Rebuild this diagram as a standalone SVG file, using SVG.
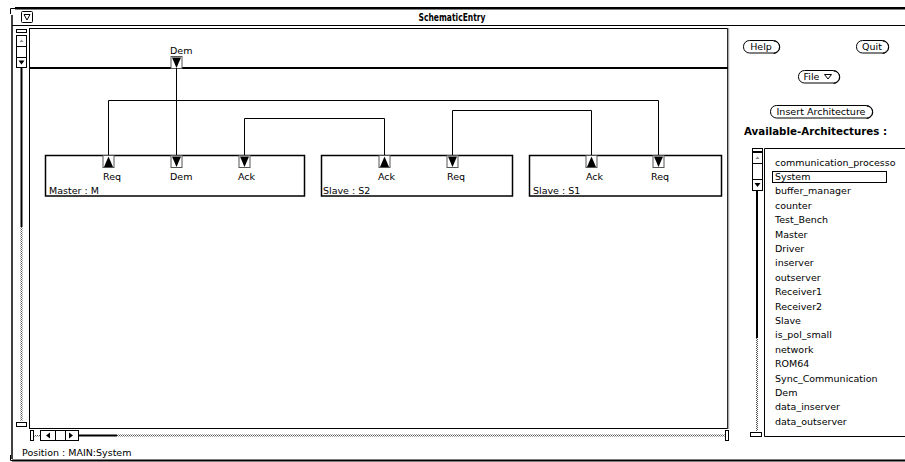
<svg xmlns="http://www.w3.org/2000/svg" xmlns:xlink="http://www.w3.org/1999/xlink" width="905" height="462" viewBox="0 0 905 462">
  <style>
    .t { font-family: "DejaVu Sans", "Liberation Sans", sans-serif; font-size: 9.5px; fill: #000; }
    .c { text-anchor: middle; }
    .b { font-family: "DejaVu Sans", "Liberation Sans", sans-serif; font-weight: bold; font-size: 10px; fill: #000; }
    .ln { stroke: #000; stroke-width: 1; fill: none; }
    .node { fill: #fff; stroke: #000; stroke-width: 1.5; }
    .port { fill: #fff; stroke: #555; stroke-width: 1; }
    .btn { fill: #fff; stroke: #000; stroke-width: 1; }
    .sb { fill: #fff; stroke: #000; stroke-width: 1; }
  </style>
  <defs>
    <pattern id="stip" width="2" height="2" patternUnits="userSpaceOnUse">
      <rect width="2" height="2" fill="#fff"/>
      <rect width="1" height="1" fill="#555"/>
      <rect x="1" y="1" width="1" height="1" fill="#555"/>
    </pattern>
    <!-- output port: box with upward triangle -->
    <g id="portOut">
      <rect class="port" x="0.5" y="0.5" width="11" height="12"/>
      <polygon points="1.5,12 10.5,12 6,1.5" fill="#000"/>
    </g>
    <!-- input port: box with downward triangle -->
    <g id="portIn">
      <rect class="port" x="0.5" y="0.5" width="11" height="12"/>
      <polygon points="1.5,1.5 10.5,1.5 6,12" fill="#000"/>
    </g>
  </defs>

  <rect width="905" height="462" fill="#fff"/>

  <!-- window frame -->
  <g id="frame">
    <path class="ln" d="M10.5,14 V8.5 H16" stroke-width="1.5"/>
    <rect x="15" y="7" width="890" height="2.5" fill="#000"/>
    <line class="ln" x1="12" y1="25.5" x2="905" y2="25.5"/>
    <line x1="12" y1="15" x2="12" y2="459" stroke="#000" stroke-width="1.5"/>
    <path class="ln" d="M10.5,455 V460.5 H16"/>
    <rect x="12" y="459.5" width="893" height="2" fill="#000"/>
    <rect class="sb" x="21.5" y="11.5" width="11" height="11" rx="1"/>
    <path class="ln" d="M24,14.5 H30 L27,20 Z"/>
    <text class="b c" x="452" y="20.5" textLength="67" lengthAdjust="spacingAndGlyphs">SchematicEntry</text>
  </g>

  <!-- drawing canvas -->
  <g id="canvas">
    <rect x="29.5" y="28.5" width="698" height="400" fill="#fff" stroke="#000" stroke-width="1"/>
    <line x1="728.5" y1="28" x2="728.5" y2="429" stroke="#aaa" stroke-width="1.5"/>
    <rect x="29" y="67" width="699" height="2" fill="#000"/>
  </g>

  <!-- vertical scrollbar of canvas -->
  <g id="vscroll">
    <rect class="sb" x="16.5" y="29.5" width="10" height="3"/>
    <rect class="sb" x="16.5" y="35.5" width="10" height="32"/>
    <line class="ln" x1="16.5" y1="46.5" x2="26.5" y2="46.5"/>
    <line class="ln" x1="16.5" y1="57.5" x2="26.5" y2="57.5"/>
    <polygon points="19.5,42 23.5,42 21.5,39.5" fill="#888"/>
    <polygon points="18.5,60.5 24.5,60.5 21.5,64.5" fill="#000"/>
    <rect x="20.5" y="68" width="2" height="159" fill="#000"/>
    <rect x="20.5" y="227" width="2" height="194" fill="url(#stip)"/>
    <rect class="sb" x="16.5" y="422.5" width="10" height="4"/>
  </g>

  <!-- horizontal scrollbar of canvas -->
  <g id="hscroll">
    <rect class="sb" x="30.5" y="430.5" width="3" height="10"/>
    <rect x="34" y="435" width="6" height="1.5" fill="url(#stip)"/>
    <rect class="sb" x="40.5" y="430.5" width="38" height="10"/>
    <line class="ln" x1="55.5" y1="430.5" x2="55.5" y2="440.5"/>
    <line class="ln" x1="65.5" y1="430.5" x2="65.5" y2="440.5"/>
    <polygon points="50,432.5 50,438.5 46,435.5" fill="#000"/>
    <polygon points="69,432.5 69,438.5 73,435.5" fill="#000"/>
    <rect x="78" y="434.5" width="39" height="2" fill="#000"/>
    <rect x="117" y="434.5" width="608" height="2" fill="url(#stip)"/>
    <rect class="sb" x="725.5" y="430.5" width="3" height="10"/>
  </g>

  <!-- top-level port -->
  <g id="port-Dem">
    <text class="t" x="170" y="53.5">Dem</text>
    <use xlink:href="#portIn" x="170.5" y="56"/>
  </g>

  <!-- connectors -->
  <g id="connectors" class="ln">
    <polyline points="108.5,156 108.5,100.5 658.5,100.5 658.5,156"/>
    <polyline points="244.5,156 244.5,118.5 384.5,118.5 384.5,156"/>
    <polyline points="452.5,156 452.5,110.5 591.5,110.5 591.5,156"/>
    <line x1="176.5" y1="68" x2="176.5" y2="156"/>
  </g>

  <!-- instance Master : M -->
  <g id="node-Master">
    <rect class="node" x="45.5" y="155.5" width="259" height="40.5"/>
    <use xlink:href="#portOut" x="102.5" y="155"/>
    <use xlink:href="#portIn" x="170.5" y="155"/>
    <use xlink:href="#portIn" x="238.5" y="155"/>
    <text class="t" x="103" y="180">Req</text>
    <text class="t" x="170" y="180">Dem</text>
    <text class="t" x="238" y="180">Ack</text>
    <text class="t" x="49" y="194">Master : M</text>
  </g>

  <!-- instance Slave : S2 -->
  <g id="node-S2">
    <rect class="node" x="321.5" y="155.5" width="191" height="40.5"/>
    <use xlink:href="#portOut" x="378.5" y="155"/>
    <use xlink:href="#portIn" x="446.5" y="155"/>
    <text class="t" x="378" y="180">Ack</text>
    <text class="t" x="447" y="180">Req</text>
    <text class="t" x="323" y="194">Slave : S2</text>
  </g>

  <!-- instance Slave : S1 -->
  <g id="node-S1">
    <rect class="node" x="529.5" y="155.5" width="192" height="40.5"/>
    <use xlink:href="#portOut" x="585.5" y="155"/>
    <use xlink:href="#portIn" x="652.5" y="155"/>
    <text class="t" x="586" y="180">Ack</text>
    <text class="t" x="651" y="180">Req</text>
    <text class="t" x="533" y="194">Slave : S1</text>
  </g>

  <!-- control panel -->
  <g id="panel">
    <g id="btn-help">
      <rect class="btn" x="743.5" y="40.5" width="36" height="12.5" rx="6"/>
      <path class="ln" d="M773.5,41 A6,6 0 0 1 773.5,53.5" stroke-width="1.5"/>
      <text class="t c" x="761" y="50">Help</text>
    </g>
    <g id="btn-quit">
      <rect class="btn" x="856.5" y="40.5" width="32" height="12.5" rx="6"/>
      <path class="ln" d="M882.5,41 A6,6 0 0 1 882.5,53.5" stroke-width="1.5"/>
      <text class="t c" x="872" y="50">Quit</text>
    </g>
    <g id="btn-file">
      <rect class="btn" x="798.5" y="70.5" width="41" height="12.5" rx="6"/>
      <path class="ln" d="M833.5,71 A6,6 0 0 1 833.5,83.5" stroke-width="1.5"/>
      <text class="t c" x="811.5" y="80">File</text>
      <path class="ln" d="M824.5,74.5 H831.5 L828,79 Z"/>
    </g>
    <g id="btn-insert">
      <rect class="btn" x="770.5" y="105.5" width="102" height="12.5" rx="6"/>
      <path class="ln" d="M866.5,106 A6,6 0 0 1 866.5,118.5" stroke-width="1.5"/>
      <text class="t c" x="821" y="115" textLength="89" lengthAdjust="spacingAndGlyphs">Insert Architecture</text>
    </g>
    <text class="b" x="744" y="134.5" textLength="143" lengthAdjust="spacingAndGlyphs">Available-Architectures :</text>
  </g>

  <!-- architecture list -->
  <g id="arch-list">
    <path class="ln" d="M905,148.5 H764.5 V436.5 H905"/>
    <rect class="sb" x="752.5" y="148.5" width="10" height="3"/>
    <rect class="sb" x="752.5" y="152.5" width="10" height="38"/>
    <line class="ln" x1="752.5" y1="163.5" x2="762.5" y2="163.5"/>
    <line class="ln" x1="752.5" y1="179.5" x2="762.5" y2="179.5"/>
    <polygon points="755.5,159 759.5,159 757.5,156.5" fill="#888"/>
    <polygon points="754.5,183 760.5,183 757.5,187" fill="#000"/>
    <rect x="756" y="191" width="2" height="147" fill="#000"/>
    <rect x="756" y="338" width="2" height="93" fill="url(#stip)"/>
    <rect class="sb" x="750.5" y="432.5" width="11" height="4"/>
    <rect x="772.5" y="171.5" width="114" height="11" fill="none" stroke="#000" stroke-width="1"/>
    <g class="t">
      <text x="775" y="165.5">communication_processo</text>
      <text x="775" y="179.9">System</text>
      <text x="775" y="194.3">buffer_manager</text>
      <text x="775" y="208.7">counter</text>
      <text x="775" y="223.1">Test_Bench</text>
      <text x="775" y="237.5">Master</text>
      <text x="775" y="251.9">Driver</text>
      <text x="775" y="266.3">inserver</text>
      <text x="775" y="280.7">outserver</text>
      <text x="775" y="295.1">Receiver1</text>
      <text x="775" y="309.5">Receiver2</text>
      <text x="775" y="323.9">Slave</text>
      <text x="775" y="338.3">is_pol_small</text>
      <text x="775" y="352.7">network</text>
      <text x="775" y="367.1">ROM64</text>
      <text x="775" y="381.5">Sync_Communication</text>
      <text x="775" y="395.9">Dem</text>
      <text x="775" y="410.3">data_inserver</text>
      <text x="775" y="424.7">data_outserver</text>
    </g>
  </g>

  <!-- status line -->
  <text id="status" class="t" x="22" y="456">Position : MAIN:System</text>
</svg>
